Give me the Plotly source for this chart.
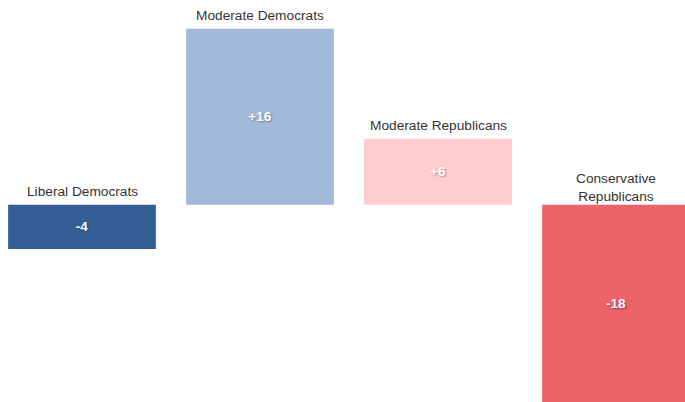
import plotly.graph_objects as go

# Net change by ideological group
groups = ["Liberal Democrats", "Moderate Democrats", "Moderate Republicans", "Conservative Republicans"]
group_labels = ["Liberal Democrats", "Moderate Democrats", "Moderate Republicans", "Conservative<br>Republicans"]
net_change = [-4, 16, 6, -18]
value_text = ["-4", "+16", "+6", "-18"]
bar_colors = ["#335f95", "#a2bad8", "#ffcdd0", "#ec636a"]

LABEL_FONT = "Liberation Sans, Arial, sans-serif"

fig = go.Figure(
    go.Bar(
        x=list(range(len(groups))),
        y=net_change,
        width=0.83,
        marker=dict(color=bar_colors, line=dict(width=0)),
        text=value_text,
        textposition="inside",
        insidetextanchor="middle",
        textangle=0,
        textfont=dict(family=LABEL_FONT, size=13.5, color="white",
                      weight="bold", shadow="1px 1px 2px rgba(0,0,0,0.35)"),
        hoverinfo="skip",
    )
)

# Group names sit above each bar (or above the zero line for negative bars)
for i, (lab, v) in enumerate(zip(group_labels, net_change)):
    two_line = "<br>" in lab
    fig.add_annotation(
        x=i, y=max(v, 0), text=lab, showarrow=False,
        xanchor="center", yanchor="bottom",
        yshift=-1 if two_line else 4,
        font=dict(family=LABEL_FONT, size=13.7, color="#333333"),
    )

fig.update_layout(
    width=685, height=402,
    margin=dict(l=0, r=0, t=0, b=0),
    paper_bgcolor="white", plot_bgcolor="white",
    showlegend=False,
    xaxis=dict(range=[-0.4607, 3.3876], visible=False, fixedrange=True),
    yaxis=dict(range=[-17.9, 18.6], visible=False, fixedrange=True, zeroline=False),
)

fig.write_html("out.html")
